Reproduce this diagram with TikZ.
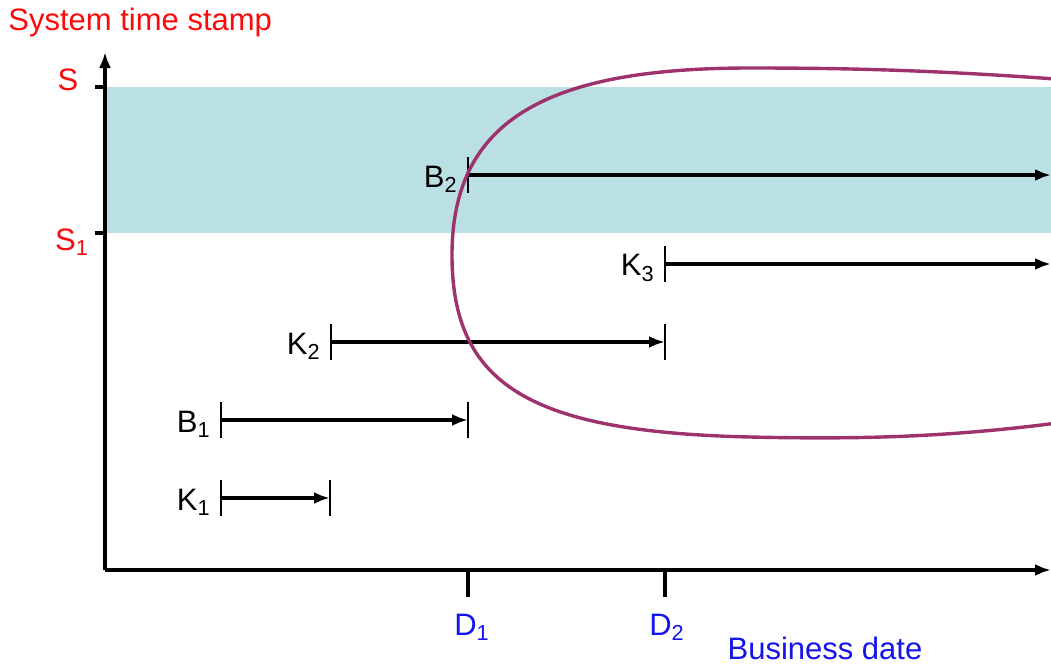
\documentclass[tikz,border=0pt]{standalone}
\usepackage{fontspec}
\setmainfont{Liberation Sans}
\usetikzlibrary{arrows.meta, positioning}
\definecolor{sellorojo}{RGB}{250,10,10}
\definecolor{fechaazul}{RGB}{20,20,235}
\definecolor{bandateal}{RGB}{187,224,227}
\definecolor{lazomorado}{RGB}{158,50,108}
\tikzset{
  eje/.style={line width=1.9pt, -{Latex[length=8pt,width=6pt]}},
  marca/.style={line width=1.9pt},
  intervalo/.style={line width=1.8pt, -{Latex[length=8pt,width=6pt]}},
  barra/.style={line width=1.1pt},
  etiq/.style={font=\fontsize{15.5}{18}\selectfont, inner sep=2pt},
  etiqeje/.style={etiq, text=sellorojo},
  etiqfecha/.style={etiq, text=fechaazul},
  lazo/.style={line width=1.7pt, draw=lazomorado}
}
\begin{document}
\begin{tikzpicture}[x=0.5pt, y=-0.5pt]
  \useasboundingbox (0,0) rectangle (1051,664);
  % banda de sistema entre S1 y S
  \fill [bandateal] (105,87) rectangle (1051,233);
  % ejes
  \coordinate (origen) at (105,570);
  \coordinate (ytope) at (105,52);
  \coordinate (xfin) at (1051,570);
  \draw [eje] (origen) -- (ytope);
  \draw [eje] (origen) -- (xfin);
  \coordinate (s) at (105,87);
  \coordinate (s1) at (105,233);
  \draw [marca] (s) -- ++(-10,0);
  \draw [marca] (s1) -- ++(-10,0);
  \coordinate (d1) at (468,570);
  \coordinate (d2) at (665,570);
  \draw [marca] (d1) -- ++(0,27);
  \draw [marca] (d2) -- ++(0,27);
  \node (titulo) [etiqeje, anchor=west] at (4,22) {System time stamp};
  \node (ls) [etiqeje] at (68,80) {S};
  \node (ls1) [etiqeje] at (72,242) {S\textsubscript{1}};
  \node (ld1) [etiqfecha] at (472,627) {D\textsubscript{1}};
  \node (ld2) [etiqfecha] at (667,627) {D\textsubscript{2}};
  \node (negocio) [etiqfecha] at (825,648) {Business date};
  % intervalos
  \coordinate (k1a) at (221,498); \coordinate (k1b) at (330,498);
  \coordinate (b1a) at (221,420); \coordinate (b1b) at (468,420);
  \coordinate (k2a) at (331,342); \coordinate (k2b) at (665,342);
  \coordinate (k3a) at (665,264); \coordinate (k3b) at (1051,264);
  \coordinate (b2a) at (468,175); \coordinate (b2b) at (1051,175);
  \draw [intervalo] (k1a) -- (k1b);
  \draw [intervalo] (b1a) -- (b1b);
  \draw [intervalo] (k2a) -- (k2b);
  \draw [intervalo] (k3a) -- (k3b);
  \draw [intervalo] (b2a) -- (b2b);
  \draw [barra] (k1a) ++(0,-18) -- ++(0,36);
  \draw [barra] (k1b) ++(0,-18) -- ++(0,36);
  \draw [barra] (b1a) ++(0,-18) -- ++(0,36);
  \draw [barra] (b1b) ++(0,-18) -- ++(0,36);
  \draw [barra] (k2a) ++(0,-18) -- ++(0,36);
  \draw [barra] (k2b) ++(0,-18) -- ++(0,36);
  \draw [barra] (k3a) ++(0,-18) -- ++(0,36);
  \draw [barra] (b2a) ++(0,-18) -- ++(0,36);
  \node (lk1) [etiq, left=3pt of k1a, yshift=-2pt] {K\textsubscript{1}};
  \node (lb1) [etiq, left=3pt of b1a, yshift=-2pt] {B\textsubscript{1}};
  \node (lk2) [etiq, left=3pt of k2a, yshift=-2pt] {K\textsubscript{2}};
  \node (lk3) [etiq, left=3pt of k3a, yshift=-2pt] {K\textsubscript{3}};
  \node (lb2) [etiq, left=3pt of b2a, yshift=-2pt] {B\textsubscript{2}};
  % lazo
  \draw [lazo] (1120,84) .. controls (950,70) and (850,68) .. (750,68)
    .. controls (550,68) and (452,118) .. (452,255)
    .. controls (452,385) and (530,432) .. (750,437)
    .. controls (880,440) and (980,436) .. (1120,414);
\end{tikzpicture}
\end{document}
